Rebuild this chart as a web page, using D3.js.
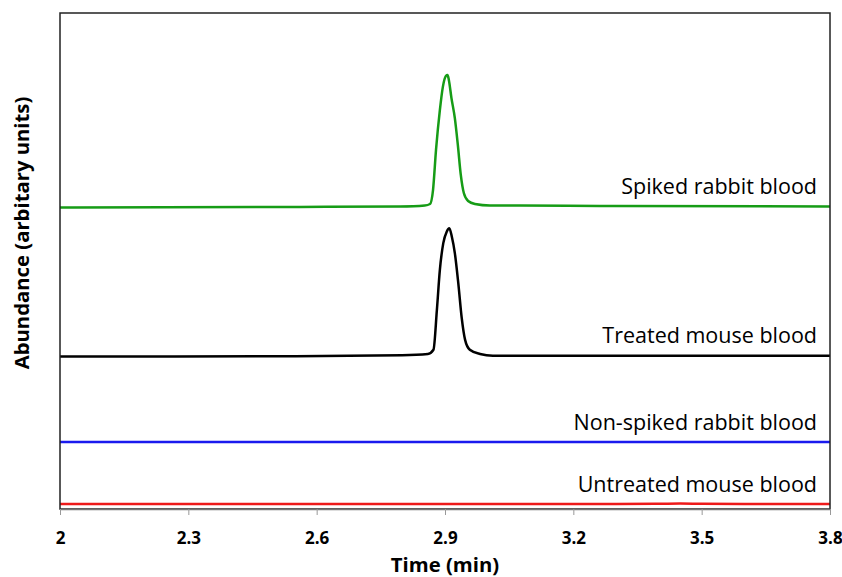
<!DOCTYPE html>
<html>
<head>
<meta charset="utf-8">
<script src="https://cdn.jsdelivr.net/npm/d3@7"></script>
<style>
  body { margin: 0; background: #fff; }
  text { font-family: "Open Sans", sans-serif; }
</style>
</head>
<body>
<div id="chart"></div>
<script>
// Data (time in min, abundance in arbitrary units)
const xTicks = [2, 2.3, 2.6, 2.9, 3.2, 3.5, 3.8];

const spikedRabbit = [
  [2.0, 60.8], [2.56, 60.9], [2.795, 61.0], [2.853, 61.2], [2.865, 61.5], [2.872, 64.3],
  [2.879, 72.4], [2.888, 80.4], [2.895, 85.1], [2.902, 87.3], [2.906, 87.5], [2.909, 86.5],
  [2.915, 82.9], [2.923, 78.8], [2.930, 73.4], [2.937, 67.3], [2.944, 63.7], [2.954, 62.1],
  [2.970, 61.5], [3.005, 61.2], [3.075, 61.2], [3.262, 61.1], [3.8, 61.0]
];

const treatedMouse = [
  [2.0, 30.75], [2.5, 30.8], [2.8, 31.0], [2.86, 31.25], [2.873, 32.1], [2.881, 40.1],
  [2.888, 48.2], [2.896, 53.6], [2.904, 55.9], [2.910, 56.6], [2.916, 54.9], [2.923, 51.6],
  [2.931, 45.6], [2.939, 38.6], [2.947, 34.1], [2.958, 32.1], [2.982, 31.25], [3.012, 30.9],
  [3.3, 30.9], [3.8, 30.9]
];

const nonSpikedRabbit = [
  [2.0, 13.5], [2.9, 13.5], [3.8, 13.5]
];

const untreatedMouse = [
  [2.0, 1.0], [2.6, 1.0], [3.3, 1.0], [3.4, 1.05], [3.45, 1.12], [3.5, 1.05], [3.6, 1.0], [3.8, 1.0]
];

const seriesNames = ['Spiked rabbit blood', 'Treated mouse blood', 'Non-spiked rabbit blood', 'Untreated mouse blood'];
const seriesColors = ['#169c16', '#000000', '#1a1aee', '#ee1a1a'];
const seriesData = [spikedRabbit, treatedMouse, nonSpikedRabbit, untreatedMouse];

// Config
const width = 842;
const height = 577;
const margin = {top: 13, right: 12, bottom: 68, left: 60};

const x = d3.scaleLinear()
  .domain([2, 3.8])
  .range([margin.left, width - margin.right]);

const y = d3.scaleLinear()
  .domain([0, 100])
  .range([height - margin.bottom, margin.top]);

const svg = d3.select('#chart').append('svg')
  .attr('width', width)
  .attr('height', height);

// Lines
const line = d3.line()
  .x(d => x(d[0]))
  .y(d => y(d[1]))
  .curve(d3.curveMonotoneX);

svg.append('g')
  .selectAll('path')
  .data(seriesData)
  .join('path')
  .attr('fill', 'none')
  .attr('stroke', (d, i) => seriesColors[i])
  .attr('stroke-width', 2.5)
  .attr('stroke-linejoin', 'round')
  .attr('d', line);

// Series labels, right aligned above each trace
svg.append('g')
  .selectAll('text')
  .data(seriesData)
  .join('text')
  .attr('x', x(3.8) - 13)
  .attr('y', d => y(d[d.length - 1][1]) - 12.5)
  .attr('text-anchor', 'end')
  .attr('font-size', 21.5)
  .attr('fill', '#000')
  .text((d, i) => seriesNames[i]);

// Frame
svg.append('rect')
  .attr('x', x(2))
  .attr('y', margin.top)
  .attr('width', x(3.8) - x(2))
  .attr('height', height - margin.bottom - margin.top)
  .attr('fill', 'none')
  .attr('stroke', '#222')
  .attr('stroke-width', 1.5);

// X-Axis
const xAxis = svg.append('g')
  .attr('transform', `translate(0,${height - margin.bottom})`)
  .call(d3.axisBottom(x)
    .tickValues(xTicks)
    .tickFormat(d3.format('~g'))
    .tickSize(6)
    .tickSizeOuter(0));

xAxis.select('.domain')
  .attr('stroke', '#777')
  .attr('stroke-width', 1.5);

xAxis.selectAll('.tick line')
  .attr('stroke', '#999');

xAxis.selectAll('.tick text')
  .attr('y', 23)
  .attr('font-family', '"Open Sans", sans-serif')
  .attr('font-size', 17)
  .attr('font-weight', 'bold')
  .attr('fill', '#000');

// Axis titles
svg.append('text')
  .attr('x', (x(2) + x(3.8)) / 2)
  .attr('y', 572)
  .attr('text-anchor', 'middle')
  .attr('font-size', 20.3)
  .attr('font-weight', 'bold')
  .text('Time (min)');

svg.append('text')
  .attr('transform', 'rotate(-90)')
  .attr('x', -233)
  .attr('y', 29)
  .attr('text-anchor', 'middle')
  .attr('font-size', 20.3)
  .attr('font-weight', 'bold')
  .text('Abundance (arbitary units)');
</script>
</body>
</html>
